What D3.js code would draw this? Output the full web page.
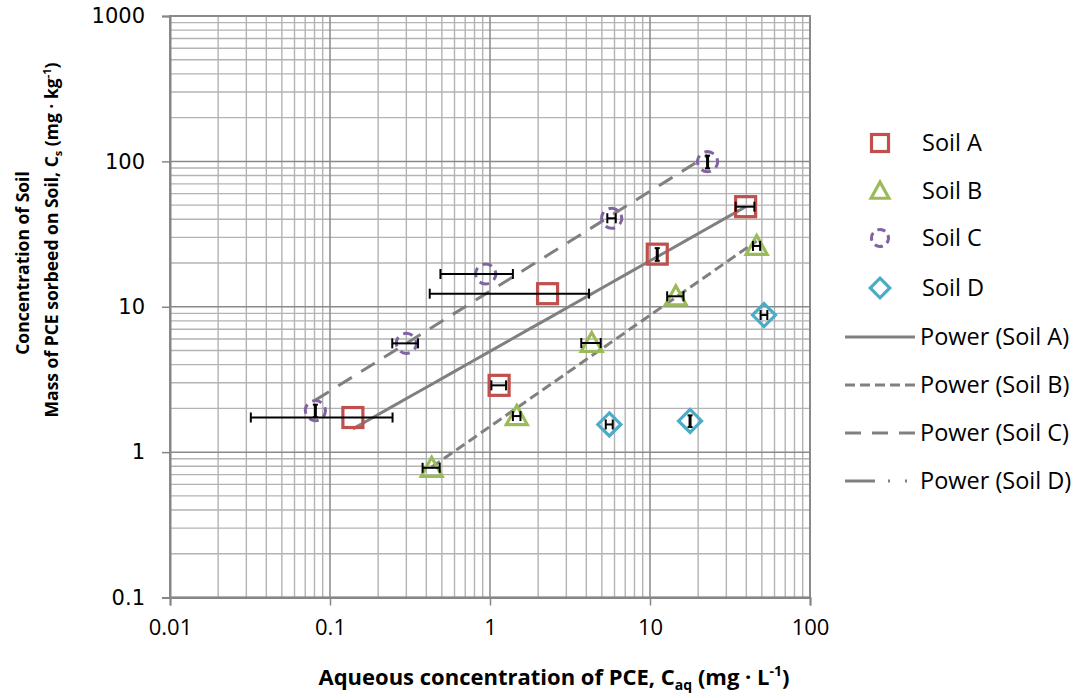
<!DOCTYPE html>
<html>
<head>
<meta charset="utf-8">
<script src="https://cdn.jsdelivr.net/npm/d3@7"></script>
<style>
  body { margin: 0; background: #fff; }
  svg { display: block; }
</style>
</head>
<body>
<div class="chart"></div>
<script>
// values
var soilNames = ["Soil A", "Soil B", "Soil C", "Soil D"];
var soilAx = [0.139, 1.14, 2.29, 11.1, 39.6];
var soilAy = [1.73, 2.88, 12.3, 23.0, 48.8];
var soilAxErr = [0.107, 0.12, 1.87, 0, 5.3];
var soilAyErr = [0, 0, 0, 2.3, 0];
var soilBx = [0.432, 1.47, 4.32, 14.5, 46.4];
var soilBy = [0.78, 1.77, 5.63, 11.8, 26.2];
var soilBxErr = [0.053, 0.08, 0.6, 1.7, 2.4];
var soilByErr = [0, 0, 0, 0, 0];
var soilCx = [0.081, 0.30, 0.94, 5.76, 22.9];
var soilCy = [1.93, 5.6, 16.8, 40.6, 99.5];
var soilCxErr = [0, 0.055, 0.45, 0.35, 0];
var soilCyErr = [0.19, 0, 0, 0, 10];
var soilDx = [5.57, 17.8, 51.6];
var soilDy = [1.55, 1.64, 8.77];
var soilDxErr = [0.28, 0, 2.5];
var soilDyErr = [0, 0.15, 0];
var xTicks = [0.01, 0.1, 1, 10, 100];
var yTicks = [0.1, 1, 10, 100, 1000];

var w = 1078, h = 698;
var colors = ["#c0504d", "#9bbb59", "#8064a2", "#4bacc6"];
var shapes = ["square", "triangle", "circle", "diamond"];
var trendDash = [null, "10,5", "16,11", "30,13,2,15,2,20"];

var series = [
  {x: soilAx, y: soilAy, ex: soilAxErr, ey: soilAyErr, trend: true},
  {x: soilBx, y: soilBy, ex: soilBxErr, ey: soilByErr, trend: true},
  {x: soilCx, y: soilCy, ex: soilCxErr, ey: soilCyErr, trend: true},
  {x: soilDx, y: soilDy, ex: soilDxErr, ey: soilDyErr, trend: false}
];

var x = d3.scaleLog().domain([0.01, 100]).range([170, 810]);
var y = d3.scaleLog().domain([0.1, 1000]).range([597.5, 16]);

var svg = d3.select(".chart").append("svg")
  .attr("width", w)
  .attr("height", h);

// grid: minor then major
var minorX = [], minorY = [];
for (var d = 0.01; d < 100; d *= 10) {
  for (var k = 2; k <= 9; k++) minorX.push(d * k);
}
for (var d2 = 0.1; d2 < 1000; d2 *= 10) {
  for (var k2 = 2; k2 <= 9; k2++) minorY.push(d2 * k2);
}
var grid = svg.append("g");
grid.selectAll(".gx").data(minorX).enter().append("line")
  .attr("x1", d => x(d)).attr("x2", d => x(d))
  .attr("y1", y(1000)).attr("y2", y(0.1))
  .attr("stroke", "#b3b3b3").attr("stroke-width", 1.4);
grid.selectAll(".gy").data(minorY).enter().append("line")
  .attr("x1", x(0.01)).attr("x2", x(100))
  .attr("y1", d => y(d)).attr("y2", d => y(d))
  .attr("stroke", "#b3b3b3").attr("stroke-width", 1.4);
grid.selectAll(".mx").data(xTicks).enter().append("line")
  .attr("x1", d => x(d)).attr("x2", d => x(d))
  .attr("y1", y(1000)).attr("y2", y(0.1))
  .attr("stroke", "#8a8a8a").attr("stroke-width", 1.5);
grid.selectAll(".my").data(yTicks).enter().append("line")
  .attr("x1", x(0.01)).attr("x2", x(100))
  .attr("y1", d => y(d)).attr("y2", d => y(d))
  .attr("stroke", "#8a8a8a").attr("stroke-width", 1.5);
// top and right border
svg.append("rect")
  .attr("x", x(0.01)).attr("y", y(1000))
  .attr("width", x(100) - x(0.01)).attr("height", y(0.1) - y(1000))
  .attr("fill", "none").attr("stroke", "#8a8a8a").attr("stroke-width", 2);

// axes
var axisX = d3.axisBottom(x).tickValues(xTicks).tickSize(8).tickPadding(14)
  .tickFormat(d3.format("~g"));
var gx = svg.append("g")
  .attr("transform", "translate(0," + y(0.1) + ")")
  .call(axisX);
gx.select(".domain").attr("stroke", "#868686").attr("stroke-width", 2);
gx.selectAll(".tick line").attr("stroke", "#868686").attr("stroke-width", 1.5);
gx.selectAll(".tick text")
  .attr("font-family", "'Open Sans', sans-serif")
  .attr("font-size", 22).attr("fill", "#000");

var axisY = d3.axisLeft(y).tickValues(yTicks).tickSize(8).tickPadding(17)
  .tickFormat(d3.format("~g"));
var gy = svg.append("g")
  .attr("transform", "translate(" + x(0.01) + ",0)")
  .call(axisY);
gy.select(".domain").attr("stroke", "#868686").attr("stroke-width", 2);
gy.selectAll(".tick line").attr("stroke", "#868686").attr("stroke-width", 1.5);
gy.selectAll(".tick text")
  .attr("font-family", "'DejaVu Sans', sans-serif")
  .attr("font-size", 21).attr("fill", "#000");

// power trendlines, least squares in log-log space
function powerFit(xs, ys) {
  var lx = xs.map(Math.log10), ly = ys.map(Math.log10);
  var mx = d3.mean(lx), my = d3.mean(ly);
  var sxy = d3.sum(lx, (v, i) => (v - mx) * (ly[i] - my));
  var sxx = d3.sum(lx, v => (v - mx) * (v - mx));
  var b = sxy / sxx;
  var a = my - b * mx;
  return v => Math.pow(10, a + b * Math.log10(v));
}

var line = d3.line().x(d => x(d[0])).y(d => y(d[1]));
series.forEach(function(s, i) {
  if (!s.trend) return;
  var f = powerFit(s.x, s.y);
  var x0 = d3.min(s.x), x1 = d3.max(s.x);
  var pts = d3.range(0, 21).map(t => {
    var v = Math.pow(10, Math.log10(x0) + t / 20 * (Math.log10(x1) - Math.log10(x0)));
    return [v, f(v)];
  });
  svg.append("path")
    .datum(pts)
    .attr("d", line)
    .attr("fill", "none")
    .attr("stroke", "#808080")
    .attr("stroke-width", 3)
    .attr("stroke-dasharray", trendDash[i]);
});

// markers
function drawMarker(g, shape, color, cx, cy, s) {
  if (shape == "square") {
    g.append("rect").attr("x", cx - s).attr("y", cy - s)
      .attr("width", 2 * s).attr("height", 2 * s)
      .attr("fill", "none").attr("stroke", color).attr("stroke-width", 3.2);
  } else if (shape == "triangle") {
    var p = [[cx, cy - s * 1.05], [cx + s * 1.05, cy + s * 0.85], [cx - s * 1.05, cy + s * 0.85]];
    g.append("polygon").attr("points", p.map(q => q.join(",")).join(" "))
      .attr("fill", "none").attr("stroke", color).attr("stroke-width", 3.2)
      .attr("stroke-linejoin", "miter");
  } else if (shape == "circle") {
    var dash = (2 * Math.PI * s / 4);
    g.append("circle").attr("cx", cx).attr("cy", cy).attr("r", s)
      .attr("fill", "none").attr("stroke", color).attr("stroke-width", 3)
      .attr("stroke-dasharray", (dash * 0.62) + "," + (dash * 0.38))
      .attr("transform", "rotate(-20," + cx + "," + cy + ")");
  } else {
    var q2 = [[cx, cy - s * 1.15], [cx + s * 1.15, cy], [cx, cy + s * 1.15], [cx - s * 1.15, cy]];
    g.append("polygon").attr("points", q2.map(q => q.join(",")).join(" "))
      .attr("fill", "none").attr("stroke", color).attr("stroke-width", 3.2);
  }
}

series.forEach(function(s, i) {
  var g = svg.append("g");
  s.x.forEach(function(v, j) {
    drawMarker(g, shapes[i], colors[i], x(v), y(s.y[j]), 10);
  });
});

// error bars on top of the markers
series.forEach(function(s, i) {
  var g = svg.append("g").attr("stroke", "#000").attr("stroke-width", 2);
  s.x.forEach(function(v, j) {
    var cx = x(v), cy = y(s.y[j]);
    if (s.ex[j] > 0) {
      var xa = x(v - s.ex[j]), xb = x(v + s.ex[j]);
      g.append("line").attr("x1", xa).attr("x2", xb).attr("y1", cy).attr("y2", cy);
      g.append("line").attr("x1", xa).attr("x2", xa).attr("y1", cy - 5).attr("y2", cy + 5);
      g.append("line").attr("x1", xb).attr("x2", xb).attr("y1", cy - 5).attr("y2", cy + 5);
    }
    if (s.ey[j] > 0) {
      var ya = y(s.y[j] - s.ey[j]), yb = y(s.y[j] + s.ey[j]);
      g.append("line").attr("x1", cx).attr("x2", cx).attr("y1", ya).attr("y2", yb)
        .attr("stroke-width", 3);
      g.append("line").attr("x1", cx - 2.5).attr("x2", cx + 2.5).attr("y1", ya).attr("y2", ya);
      g.append("line").attr("x1", cx - 2.5).attr("x2", cx + 2.5).attr("y1", yb).attr("y2", yb);
    }
  });
});

// legend
var legend = svg.append("g").attr("font-family", "'Open Sans', sans-serif").attr("font-size", 23.5);
var legendY = [143, 191, 238, 288, 337, 385, 433, 481];
soilNames.forEach(function(n, i) {
  drawMarker(legend, shapes[i], colors[i], 880, legendY[i], 8.5);
  legend.append("text").attr("x", 922).attr("y", legendY[i]).attr("dy", "0.36em").text(n);
});
soilNames.forEach(function(n, i) {
  var ly = legendY[i + 4];
  legend.append("line").attr("x1", 845).attr("x2", 915).attr("y1", ly).attr("y2", ly)
    .attr("stroke", "#808080").attr("stroke-width", 3)
    .attr("stroke-dasharray", trendDash[i]);
  legend.append("text").attr("x", 920).attr("y", ly).attr("dy", "0.36em")
    .text("Power (" + n + ")");
});

// axis titles
var xt = svg.append("text")
  .attr("x", 554).attr("y", 685)
  .attr("text-anchor", "middle")
  .attr("font-family", "'Open Sans', sans-serif")
  .attr("font-weight", "bold").attr("font-size", 22);
xt.append("tspan").text("Aqueous concentration of PCE, C");
xt.append("tspan").attr("font-size", 14).attr("dy", 5).text("aq");
xt.append("tspan").attr("dy", -5).text(" (mg · L");
xt.append("tspan").attr("font-size", 14).attr("dy", -9).text("-1");
xt.append("tspan").attr("dy", 9).text(")");

var yt1 = svg.append("text")
  .attr("transform", "translate(29,263) rotate(-90)")
  .attr("text-anchor", "middle")
  .attr("font-family", "'Open Sans', sans-serif")
  .attr("font-weight", "bold").attr("font-size", 17.5)
  .text("Concentration of Soil");
var yt2 = svg.append("text")
  .attr("transform", "translate(58,240) rotate(-90)")
  .attr("text-anchor", "middle")
  .attr("font-family", "'Open Sans', sans-serif")
  .attr("font-weight", "bold").attr("font-size", 17.5);
yt2.append("tspan").text("Mass of PCE sorbeed on Soil, C");
yt2.append("tspan").attr("font-size", 11).attr("dy", 4).text("s");
yt2.append("tspan").attr("dy", -4).text(" (mg · kg");
yt2.append("tspan").attr("font-size", 11).attr("dy", -7).text("-1");
yt2.append("tspan").attr("dy", 7).text(")");
</script>
</body>
</html>
